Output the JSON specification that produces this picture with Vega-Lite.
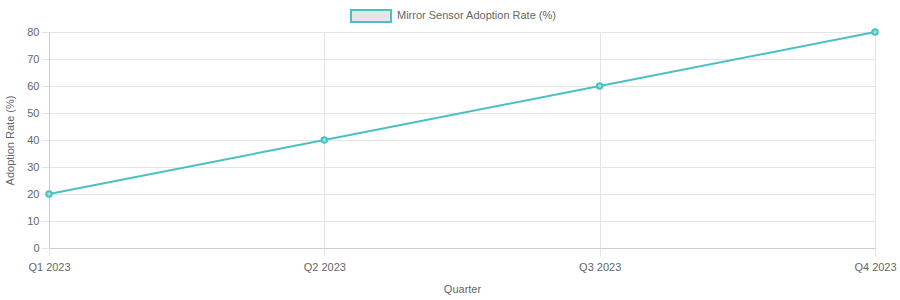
{
  "$schema": "https://vega.github.io/schema/vega-lite/v6.json",
  "width": 826,
  "height": 216,
  "autosize": {"type": "none"},
  "padding": {"left": 49, "top": 32, "right": 25, "bottom": 52},
  "background": "white",
  "config": {
    "view": {"stroke": null},
    "font": "Liberation Sans",
    "axis": {
      "labelFont": "Liberation Sans",
      "titleFont": "Liberation Sans",
      "labelFontSize": 11,
      "titleFontSize": 11,
      "labelColor": "#666666",
      "titleColor": "#666666",
      "titleFontWeight": "normal",
      "gridColor": "#e5e5e5",
      "gridWidth": 1,
      "domainColor": "#cccccc",
      "tickColor": "#e5e5e5",
      "tickSize": 8
    }
  },
  "data": {
    "values": [
      {"quarter": "Q1 2023", "rate": 20, "series": "Mirror Sensor Adoption Rate (%)"},
      {"quarter": "Q2 2023", "rate": 40, "series": "Mirror Sensor Adoption Rate (%)"},
      {"quarter": "Q3 2023", "rate": 60, "series": "Mirror Sensor Adoption Rate (%)"},
      {"quarter": "Q4 2023", "rate": 80, "series": "Mirror Sensor Adoption Rate (%)"}
    ]
  },
  "encoding": {
    "x": {
      "field": "quarter",
      "type": "ordinal",
      "scale": {"type": "point", "padding": 0},
      "axis": {"title": "Quarter", "labelAngle": 0, "grid": true, "labelPadding": 5, "titlePadding": 11}
    },
    "y": {
      "field": "rate",
      "type": "quantitative",
      "scale": {"domain": [0, 80]},
      "axis": {"title": "Adoption Rate (%)", "values": [0,10,20,30,40,50,60,70,80], "labelPadding": 2, "titlePadding": 11}
    }
  },
  "layer": [
    {
      "mark": {"type": "line", "strokeWidth": 2},
      "encoding": {
        "color": {
          "field": "series",
          "type": "nominal",
          "scale": {"range": ["#4bc0c0"]},
          "legend": {
            "title": null,
            "orient": "none",
            "legendX": 301,
            "legendY": -37,
            "padding": 0,
            "symbolType": "M-1,-0.3H1V0.3H-1Z",
            "symbolSize": 1600,
            "symbolStrokeWidth": 2,
            "labelFont": "Liberation Sans",
            "labelFontSize": 11,
            "labelColor": "#666666",
            "labelOffset": 5,
            "encode": {
              "symbols": {"update": {"fill": {"value": "#e6e6e6"}, "stroke": {"value": "#4bc0c0"}, "fillOpacity": {"value": 1}}}
            }
          }
        }
      }
    },
    {
      "mark": {"type": "point", "filled": false, "size": 30, "strokeWidth": 2, "stroke": "#4bc0c0", "fill": "#a5dfdf", "fillOpacity": 1, "opacity": 1}
    }
  ]
}
